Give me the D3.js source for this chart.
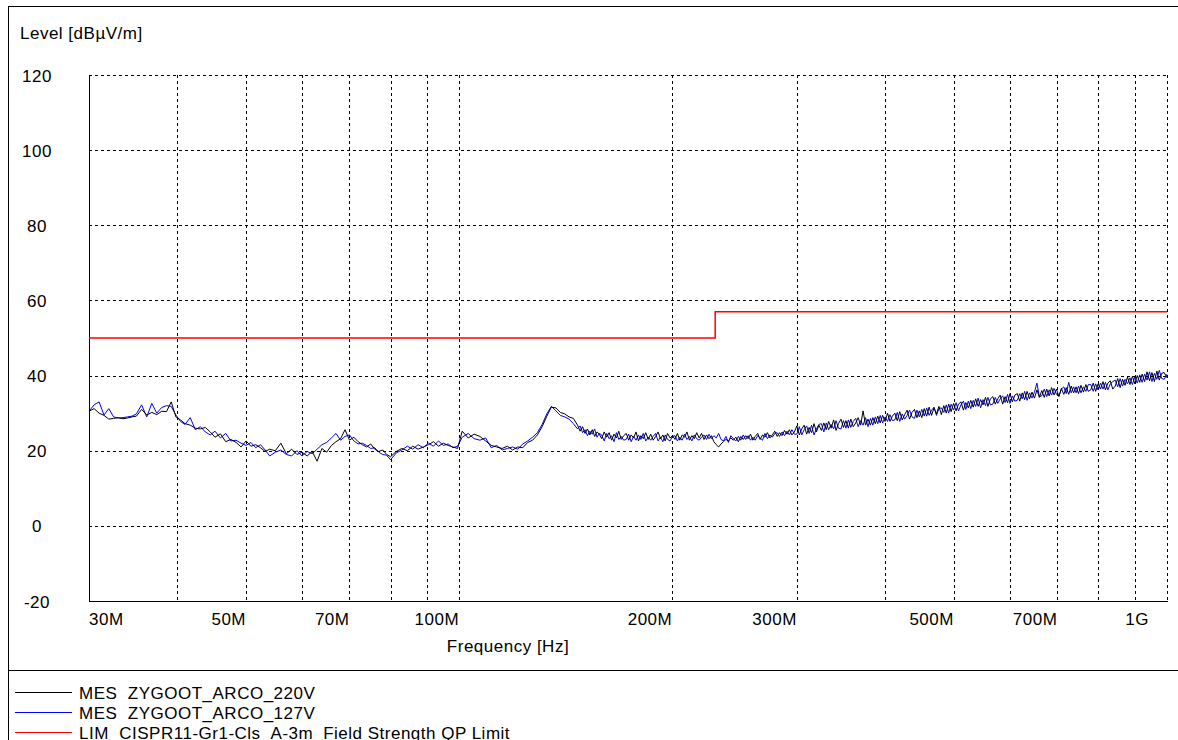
<html>
<head>
<meta charset="utf-8">
<title>EMI scan</title>
<script src="https://cdn.jsdelivr.net/npm/d3@7"></script>
<style>
body { margin: 0; background: #fff; }
text { font-family: "Liberation Sans", Arial, sans-serif; font-size: 17px; letter-spacing: 0.5px; fill: #000; }
.grid line { stroke: #000; stroke-width: 1; stroke-dasharray: 3,3; shape-rendering: crispEdges; }
.frame { stroke: #000; stroke-width: 1; shape-rendering: crispEdges; }
</style>
</head>
<body>
<script>

// sweep points, MHz
var freqMHz = [
  30, 30.5, 31, 31.5, 32, 32.5, 33, 33.5, 34, 34.5,
  35, 35.6, 36.2, 36.8, 37.4, 38, 38.6, 39.2, 39.8, 40.4,
  41, 41.7, 42.4, 43.1, 43.8, 44.5, 45.2, 46, 46.8, 47.6,
  48.4, 49.2, 50, 50.8, 51.6, 52.4, 53.2, 54, 55, 56,
  57, 58, 59, 60, 61, 62, 63, 64, 65, 66,
  67, 68, 69, 70, 71, 72, 73, 74, 75, 76,
  77, 78, 79, 80, 81.5, 83, 84.5, 86, 87.5, 89,
  90.5, 92, 93.5, 95, 96.5, 98, 99.5, 101, 103, 105,
  107, 109, 111, 113, 115, 117, 119, 121, 123, 125,
  127, 129, 131, 133, 135, 137, 139, 141, 143, 145,
  147, 148.2, 149.4, 150.6, 151.8, 153, 154.2, 155.4, 156.6, 157.8,
  159, 160.3, 161.6, 162.9, 164.2, 165.5, 166.8, 168.1, 169.4, 170.8,
  172.2, 173.6, 175, 176.4, 177.8, 179.2, 180.6, 182, 183.5, 185,
  186.5, 188, 189.5, 191, 192.5, 194, 195.5, 197, 198.6, 200.2,
  201.8, 203.4, 205, 206.6, 208.2, 209.8, 211.5, 213.2, 214.9, 216.6,
  218.3, 220, 221.8, 223.6, 225.4, 227.2, 229, 230.8, 232.6, 234.4,
  236.3, 238.2, 240.1, 242, 244, 246, 248, 250, 252, 254,
  256, 258, 260, 262, 264.1, 266.2, 268.3, 270.4, 272.6, 274.8,
  277, 279.2, 281.4, 283.6, 285.9, 288.2, 290.5, 292.8, 295.2, 297.6,
  300, 302.4, 304.8, 307.2, 309.7, 312.2, 314.7, 317.2, 319.7, 322.3,
  324.9, 327.5, 330.1, 332.7, 335.4, 338.1, 340.8, 343.5, 346.3, 349.1,
  351.9, 354.7, 357.5, 360.4, 363.3, 366.2, 369.1, 372.1, 375.1, 378.1,
  381.1, 384.1, 387.2, 390.3, 393.4, 396.5, 399.7, 402.9, 406.1, 409.3,
  412.6, 415.9, 419.2, 422.6, 426, 429.4, 432.8, 436.3, 439.8, 443.3,
  446.8, 450.4, 454, 457.6, 461.3, 465, 468.7, 472.4, 476.2, 480,
  483.8, 487.7, 491.6, 495.5, 499.5, 503.5, 507.5, 511.6, 515.7, 519.8,
  524, 528.2, 532.4, 536.7, 541, 545.3, 549.7, 554.1, 558.5, 563,
  567.5, 572, 576.6, 581.2, 585.9, 590.6, 595.3, 600, 604.8, 609.6,
  614.5, 619.4, 624.4, 629.4, 634.4, 639.5, 644.6, 649.8, 655, 660.2,
  665.5, 670.8, 676.2, 681.6, 687, 692.5, 698, 703.6, 709.2, 714.9,
  720.6, 726.4, 732.2, 738.1, 744, 749.9, 755.9, 762, 768.1, 774.2,
  780.4, 786.6, 792.9, 799.2, 805.6, 812, 818.5, 825, 831.6, 838.3,
  845, 851.8, 858.6, 865.5, 872.4, 879.4, 886.4, 893.5, 900.6, 907.8,
  915, 922.3, 929.7, 937.1, 944.6, 952.2, 959.8, 967.5, 975.2, 983,
  990.9, 1000
];

// MES ZYGOOT_ARCO_220V, dBuV/m
var level220 = [
  30.5, 31.2, 30.0, 29.4, 28.4, 28.6, 28.8, 28.5, 28.7, 29.0,
  29.2, 31.0, 29.5, 30.2, 29.6, 30.5, 30.4, 33.0, 29.0, 28.2,
  27.2, 26.8, 26.0, 25.8, 26.2, 25.0, 23.6, 24.5, 22.4, 23.0,
  22.2, 21.0, 22.6, 21.2, 21.6, 20.8, 19.8, 20.4, 20.0, 22.0,
  19.2, 20.4, 19.0, 19.6, 18.6, 19.8, 17.2, 20.6, 19.6, 21.4,
  22.4, 23.2, 25.6, 22.8, 23.6, 22.4, 21.6, 21.0, 21.8, 20.4,
  19.8, 20.2, 19.0, 18.4, 19.8, 20.6, 20.0, 21.2, 20.4, 21.0,
  21.6, 22.4, 21.2, 22.0, 21.4, 21.0, 20.6, 25.2, 23.4, 24.4,
  23.8, 22.6, 21.4, 21.0, 20.6, 21.2, 20.2, 21.0, 20.8, 22.2,
  22.8, 24.2, 26.4, 29.2, 31.6, 31.4, 30.2, 29.8, 29.0, 28.6,
  26.8, 25.2, 26.4, 24.6, 25.8, 24.2, 25.6, 23.8, 25.0, 24.4,
  23.2, 25.0, 23.6, 24.8, 22.8, 24.4, 23.4, 25.2, 23.0, 24.0,
  24.6, 22.8, 24.2, 23.4, 25.0, 22.6, 24.0, 23.2, 24.8, 23.0,
  24.4, 22.8, 23.8, 25.0, 23.2, 24.2, 22.6, 24.6, 23.4, 24.0,
  23.0, 24.6, 22.8, 24.2, 23.6, 25.0, 22.8, 24.0, 23.2, 24.8,
  23.4, 24.6, 23.0, 24.2, 23.2, 24.0, 22.4, 21.6, 21.0, 21.8,
  22.4, 23.0, 22.6, 23.4, 22.8, 23.6, 22.4, 23.8, 23.0, 24.0,
  23.2, 24.4, 22.8, 23.8, 24.6, 23.0, 24.2, 23.6, 24.8, 23.4,
  24.2, 25.2, 23.8, 24.8, 24.0, 25.4, 24.4, 25.6, 24.2, 25.0,
  26.6, 24.2, 25.8, 26.8, 24.4, 26.2, 24.8, 27.2, 25.0, 26.8,
  25.4, 27.4, 25.6, 27.8, 26.0, 28.2, 25.4, 27.2, 28.4, 26.2,
  28.0, 26.0, 28.4, 26.4, 27.4, 28.8, 26.8, 30.6, 26.8, 28.4,
  26.8, 28.8, 27.2, 29.2, 27.4, 29.4, 27.8, 30.0, 27.8, 29.2,
  30.0, 28.0, 30.4, 28.2, 29.6, 30.8, 28.4, 30.2, 31.0, 28.8,
  30.6, 28.8, 31.2, 29.2, 31.6, 29.4, 31.4, 29.8, 31.8, 29.6,
  32.0, 30.0, 32.4, 30.4, 32.6, 30.6, 32.4, 33.0, 30.8, 32.8,
  31.4, 33.4, 31.6, 33.8, 31.8, 33.6, 32.2, 34.2, 31.8, 33.8,
  34.4, 32.4, 33.8, 34.8, 32.4, 34.4, 32.8, 35.2, 33.0, 34.8,
  35.2, 33.2, 35.4, 33.6, 35.8, 33.8, 35.6, 34.0, 36.2, 34.2,
  36.0, 34.2, 36.4, 34.6, 36.8, 34.8, 36.4, 34.4, 36.6, 35.0,
  36.8, 35.0, 37.2, 35.4, 37.0, 35.2, 37.4, 35.6, 37.6, 35.8,
  36.2, 38.0, 35.8, 37.8, 36.4, 38.4, 36.2, 38.0, 38.6, 36.4,
  37.2, 39.2, 36.8, 39.0, 37.4, 39.6, 37.6, 39.8, 37.8, 40.0,
  38.2, 40.4, 38.4, 41.0, 38.6, 40.8, 38.4, 41.2, 38.8, 40.6,
  40.8, 39.4
];

// MES ZYGOOT_ARCO_127V, dBuV/m
var level127 = [
  30.5, 32.2, 33.0, 29.5, 31.2, 29.0, 28.7, 28.8, 29.0, 29.2,
  29.8, 32.2, 29.0, 32.6, 30.0, 31.5, 32.0, 31.8, 29.5, 27.8,
  27.0, 28.8, 25.6, 26.4, 25.0, 24.2, 25.2, 23.4, 24.6, 22.6,
  22.8, 22.0, 21.4, 22.2, 20.8, 21.6, 20.2, 18.6, 19.6, 20.2,
  19.0, 18.6, 20.0, 18.6, 19.8, 19.2, 20.4, 21.6, 22.2, 23.4,
  24.6, 22.8, 23.8, 24.2, 22.6, 21.8, 22.0, 21.4, 20.6, 20.8,
  19.6, 19.0, 18.8, 17.6, 19.4, 20.2, 21.2, 20.4, 21.6, 20.8,
  22.0, 21.2, 22.6, 21.4, 21.8, 20.8, 21.2, 23.6, 24.6, 23.2,
  22.8, 23.4, 20.8, 21.4, 20.2, 20.6, 21.0, 20.4, 21.8, 22.6,
  23.6, 24.8, 27.0, 29.8, 31.8, 30.6, 29.4, 29.0, 28.4, 27.2,
  25.8, 26.6, 24.8, 25.6, 24.0, 25.2, 24.4, 25.8, 23.6, 24.6,
  24.2, 22.6, 24.6, 23.2, 24.0, 22.4, 24.8, 23.0, 23.8, 22.8,
  23.0, 24.4, 22.4, 23.8, 22.8, 24.2, 23.0, 24.6, 22.6, 23.6,
  22.8, 23.8, 24.6, 22.6, 23.6, 22.4, 24.2, 23.0, 22.6, 23.8,
  24.0, 22.6, 23.6, 22.8, 24.4, 23.0, 23.8, 22.6, 24.2, 23.2,
  22.8, 23.6, 24.2, 23.0, 24.4, 23.2, 24.0, 23.4, 24.6, 23.0,
  22.6, 23.8, 22.2, 24.0, 23.2, 22.6, 23.8, 22.8, 24.2, 23.0,
  24.0, 22.8, 23.6, 22.8, 24.0, 23.4, 22.8, 24.6, 23.2, 24.2,
  23.6, 24.6, 24.8, 23.8, 25.0, 24.0, 25.2, 24.2, 25.6, 24.4,
  24.4, 26.4, 24.2, 25.6, 26.6, 24.6, 26.8, 24.2, 25.8, 27.0,
  27.2, 25.0, 27.4, 25.6, 27.0, 25.8, 28.0, 26.0, 25.8, 28.0,
  26.0, 28.2, 26.2, 27.8, 28.6, 26.4, 28.0, 26.8, 28.8, 26.4,
  28.6, 26.8, 29.0, 27.2, 29.4, 27.4, 29.0, 27.8, 29.6, 28.0,
  28.2, 30.2, 27.8, 29.8, 28.4, 29.4, 30.8, 29.0, 28.6, 30.8,
  29.0, 31.0, 29.2, 31.4, 29.4, 30.8, 31.6, 29.4, 31.2, 31.4,
  30.2, 32.2, 30.0, 32.4, 30.8, 32.8, 30.6, 32.2, 33.2, 31.0,
  33.2, 31.2, 33.4, 31.8, 34.0, 31.4, 33.6, 32.0, 34.2, 32.2,
  32.4, 34.2, 32.6, 33.8, 34.6, 32.8, 35.0, 32.6, 34.6, 33.2,
  33.4, 35.2, 33.8, 35.8, 33.4, 35.4, 34.0, 35.6, 38.0, 34.4,
  34.6, 36.4, 34.4, 36.2, 34.8, 36.6, 35.0, 34.6, 36.4, 37.0,
  35.2, 38.2, 35.4, 37.0, 35.4, 37.2, 35.4, 37.0, 35.8, 37.6,
  37.6, 35.8, 37.8, 36.2, 38.0, 36.4, 38.2, 36.2, 37.8, 38.4,
  38.8, 37.0, 39.2, 37.2, 39.0, 37.8, 39.4, 37.6, 39.6, 38.0,
  40.2, 38.2, 40.4, 38.8, 41.0, 38.4, 40.6, 39.0, 41.4, 39.2,
  39.0, 40.4
];

// LIM CISPR11 limit, step at 230 MHz
var limitFreq = [30, 230, 230, 1000];
var limitLevel = [50, 50, 57, 57];

var gridFreq = [40, 50, 60, 70, 80, 90, 100, 200, 300, 400, 500, 600, 700, 800, 900, 1000];
var tickFreq = [30, 50, 70, 100, 200, 300, 500, 700, 1000];
var tickText = ['30M', '50M', '70M', '100M', '200M', '300M', '500M', '700M', '1G'];
var levelTicks = [120, 100, 80, 60, 40, 20, 0, -20];

var legendNames = ['MES  ZYGOOT_ARCO_220V', 'MES  ZYGOOT_ARCO_127V', 'LIM  CISPR11-Gr1-Cls_A-3m_Field Strength QP Limit'];
var legendColors = ['#000000', '#0000ff', '#ff0000'];

var W = 1178, H = 740;
var pLeft = 89, pRight = 1167, pTop = 75, pBottom = 601;

var svg = d3.select('body').append('svg')
    .attr('width', W)
    .attr('height', H);

var x = d3.scaleLog().domain([30, 1000]).range([pLeft, pRight]);
var y = d3.scaleLinear().domain([-20, 120]).range([pBottom, pTop]);

function px(v) { return Math.round(v) + 0.5; }

// outer frame + legend separator
svg.append('line').attr('class', 'frame')
    .attr('x1', 8.5).attr('x2', 8.5).attr('y1', 6).attr('y2', H);
svg.append('line').attr('class', 'frame')
    .attr('x1', 8).attr('x2', W).attr('y1', 6.5).attr('y2', 6.5);
svg.append('line').attr('class', 'frame')
    .attr('x1', 8).attr('x2', W).attr('y1', 670.5).attr('y2', 670.5);

// grid
var grid = svg.append('g').attr('class', 'grid');
grid.selectAll('.hg')
    .data(levelTicks.filter(function(d) { return d > -20; }))
    .enter().append('line')
    .attr('x1', pLeft).attr('x2', pRight)
    .attr('y1', function(d) { return px(y(d)); })
    .attr('y2', function(d) { return px(y(d)); });
grid.selectAll('.vg')
    .data(gridFreq)
    .enter().append('line')
    .attr('y1', pTop).attr('y2', pBottom)
    .attr('x1', function(d) { return px(x(d)); })
    .attr('x2', function(d) { return px(x(d)); });

// solid axes
svg.append('line').attr('class', 'frame')
    .attr('x1', px(pLeft)).attr('x2', px(pLeft)).attr('y1', pTop).attr('y2', pBottom + 1);
svg.append('line').attr('class', 'frame')
    .attr('x1', pLeft).attr('x2', pRight + 1).attr('y1', px(pBottom)).attr('y2', px(pBottom));

// y labels
svg.selectAll('.ylab')
    .data(levelTicks)
    .enter().append('text')
    .attr('x', 37)
    .attr('y', function(d) { return y(d) + 1; })
    .attr('text-anchor', 'middle')
    .attr('dominant-baseline', 'central')
    .text(function(d) { return d; });

// x labels: right-aligned on their tick, first/last kept inside the plot
svg.selectAll('.xlab')
    .data(tickFreq)
    .enter().append('text')
    .attr('y', 619)
    .attr('dominant-baseline', 'central')
    .attr('x', function(d, i) {
        if (i == 0) return x(d);
        if (i == tickFreq.length - 1) return x(d) - 18;
        return x(d);
    })
    .attr('text-anchor', function(d, i) { return i == 0 ? 'start' : 'end'; })
    .text(function(d, i) { return tickText[i]; });

svg.append('text')
    .attr('x', 20).attr('y', 33)
    .attr('dominant-baseline', 'central')
    .text('Level [dBµV/m]');

svg.append('text')
    .attr('x', 508).attr('y', 646)
    .attr('text-anchor', 'middle')
    .attr('dominant-baseline', 'central')
    .text('Frequency [Hz]');

// traces
var line = d3.line()
    .x(function(d) { return x(d[0]); })
    .y(function(d) { return y(d[1]); });

var s127 = freqMHz.map(function(f, i) { return [f, level127[i]]; });
var s220 = freqMHz.map(function(f, i) { return [f, level220[i]]; });
var lim = limitFreq.map(function(f, i) { return [f, limitLevel[i]]; });

svg.append('path').datum(s127)
    .attr('d', line)
    .attr('fill', 'none')
    .attr('stroke', legendColors[1])
    .attr('stroke-width', 1);
svg.append('path').datum(s220)
    .attr('d', line)
    .attr('fill', 'none')
    .attr('stroke', legendColors[0])
    .attr('stroke-width', 1);
svg.append('path').datum(lim)
    .attr('d', line)
    .attr('fill', 'none')
    .attr('stroke', legendColors[2])
    .attr('stroke-width', 1.5);

// legend
var leg = svg.selectAll('.leg')
    .data(legendNames)
    .enter().append('g')
    .attr('transform', function(d, i) { return 'translate(0,' + (692 + i * 20) + ')'; });
leg.append('line')
    .attr('x1', 15).attr('x2', 72)
    .attr('y1', 0.5).attr('y2', 0.5)
    .attr('stroke', function(d, i) { return legendColors[i]; })
    .attr('stroke-width', 1.2);
leg.append('text')
    .attr('x', 79)
    .attr('y', 1)
    .attr('dominant-baseline', 'central')
    .style('white-space', 'pre')
    .text(function(d) { return d; });

</script>
</body>
</html>
